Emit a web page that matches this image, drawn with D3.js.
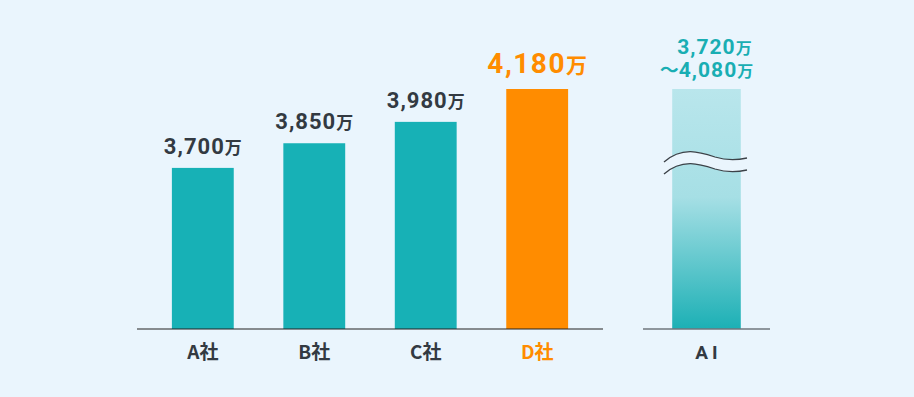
<!DOCTYPE html>
<html>
<head>
<meta charset="utf-8">
<script src="https://cdn.jsdelivr.net/npm/d3@7"></script>
<style>
  html, body { margin: 0; padding: 0; background: #eaf5fd; }
  svg { display: block; }
</style>
</head>
<body>
<script>
var companies = ["A社", "B社", "C社", "D社"];
var salaries = [3700, 3850, 3980, 4180];
var highlight = "D社";
var aiLabel = "AI";
var aiRange = [3720, 4080];

var width = 914, height = 397;
var baseY = 329;
var teal = "#17b1b6", orange = "#ff8c00", dark = "#333a42", aiText = "#19aeb3";
var numFont = "Roboto, 'Noto Sans', sans-serif";
var cjkFont = "'Noto Sans CJK JP', 'Noto Sans', sans-serif";

var svg = d3.select("body").append("svg").attr("width", width).attr("height", height);
svg.append("rect").attr("width", width).attr("height", height).attr("fill", "#eaf5fd");

var x = d3.scaleBand().domain(companies).range([137, 603]).paddingInner(0.445).paddingOuter(0.313);
var xAi = d3.scaleBand().domain([aiLabel]).range([643, 770]).paddingInner(0).paddingOuter(0.23 / 0.54);
var y = d3.scaleLinear().domain([2720, d3.max(salaries)]).range([baseY, 89]);

var defs = svg.append("defs");
var grad = defs.append("linearGradient").attr("id", "aiGrad").attr("x1", 0).attr("y1", 0).attr("x2", 0).attr("y2", 1);
grad.append("stop").attr("offset", "0%").attr("stop-color", "#b9e6ec");
grad.append("stop").attr("offset", "45%").attr("stop-color", "#a6dfe5");
grad.append("stop").attr("offset", "100%").attr("stop-color", "#1cb0b5");

var data = companies.map(function (c, i) { return {name: c, value: salaries[i]}; });

// bars
svg.selectAll("rect.bar").data(data).enter().append("rect")
  .attr("class", "bar")
  .attr("x", function (d) { return x(d.name); })
  .attr("y", function (d) { return y(d.value); })
  .attr("width", x.bandwidth())
  .attr("height", function (d) { return baseY - y(d.value); })
  .attr("fill", function (d) { return d.name === highlight ? orange : teal; });

// value labels
var lab = svg.selectAll("text.val").data(data).enter().append("text")
  .attr("class", "val")
  .attr("x", function (d) { return x(d.name) + x.bandwidth() / 2; })
  .attr("y", function (d) { return y(d.value) - (d.name === highlight ? 16 : 14); })
  .attr("text-anchor", "middle")
  .attr("font-weight", "bold")
  .attr("fill", function (d) { return d.name === highlight ? orange : dark; });
lab.append("tspan")
  .attr("font-family", numFont)
  .attr("font-size", function (d) { return d.name === highlight ? 28 : 22; })
  .attr("letter-spacing", function (d) { return d.name === highlight ? 1.5 : 1; })
  .text(function (d) { return d3.format(",")(d.value); });
lab.append("tspan")
  .attr("font-family", cjkFont)
  .attr("font-size", function (d) { return d.name === highlight ? 21 : 17; })
  .text("万");

// axis lines
svg.append("line").attr("x1", 137).attr("x2", 603).attr("y1", baseY).attr("y2", baseY)
  .attr("stroke", "#222").attr("stroke-width", 1.2);

// category labels
svg.selectAll("text.cat").data(data).enter().append("text")
  .attr("class", "cat")
  .attr("x", function (d) { return x(d.name) + x.bandwidth() / 2; })
  .attr("y", 359)
  .attr("text-anchor", "middle")
  .attr("font-family", cjkFont)
  .attr("font-weight", "bold")
  .attr("font-size", 19)
  .attr("fill", function (d) { return d.name === highlight ? orange : dark; })
  .text(function (d) { return d.name; });

// AI bar
var aiTop = y(d3.max(salaries));
svg.append("rect")
  .attr("x", xAi(aiLabel))
  .attr("y", aiTop)
  .attr("width", xAi.bandwidth())
  .attr("height", baseY - aiTop)
  .attr("fill", "url(#aiGrad)");

svg.append("line").attr("x1", 643).attr("x2", 770).attr("y1", baseY).attr("y2", baseY)
  .attr("stroke", "#6f767d").attr("stroke-width", 1.5);

// break mark
var wave = function (off) {
  return "M664," + (162 + off) + " C682," + (146 + off) + " 700," + (152 + off) + " 715," + (157 + off) +
    " C728," + (161 + off) + " 738," + (160 + off) + " 747," + (158 + off);
};
svg.append("path")
  .attr("d", wave(0) + " L747,170 C738,172 728,173 715,169 C700,164 682,158 664,174 Z")
  .attr("fill", "#eaf5fd");
svg.append("path").attr("d", wave(0)).attr("fill", "none").attr("stroke", "#3c4248").attr("stroke-width", 1.3);
svg.append("path").attr("d", wave(12)).attr("fill", "none").attr("stroke", "#3c4248").attr("stroke-width", 1.3);

// AI labels
var aiX = xAi(aiLabel) + xAi.bandwidth() / 2;
var l1 = svg.append("text").attr("x", aiX + 8).attr("y", 54).attr("text-anchor", "middle")
  .attr("font-weight", "bold").attr("fill", aiText);
l1.append("tspan").attr("font-family", numFont).attr("font-size", 21).attr("letter-spacing", 1).text(d3.format(",")(aiRange[0]));
l1.append("tspan").attr("font-family", cjkFont).attr("font-size", 16).text("万");
var l2 = svg.append("text").attr("x", aiX).attr("y", 77).attr("text-anchor", "middle")
  .attr("font-weight", "bold").attr("fill", aiText);
l2.append("tspan").attr("font-family", cjkFont).attr("font-size", 19).text("～");
l2.append("tspan").attr("font-family", numFont).attr("font-size", 21).attr("letter-spacing", 1).text(d3.format(",")(aiRange[1]));
l2.append("tspan").attr("font-family", cjkFont).attr("font-size", 16).text("万");

svg.append("text").attr("x", aiX + 2).attr("y", 359).attr("text-anchor", "middle")
  .attr("font-family", numFont).attr("font-weight", "bold").attr("font-size", 19)
  .attr("letter-spacing", 4).attr("fill", dark).text(aiLabel);
</script>
</body>
</html>
